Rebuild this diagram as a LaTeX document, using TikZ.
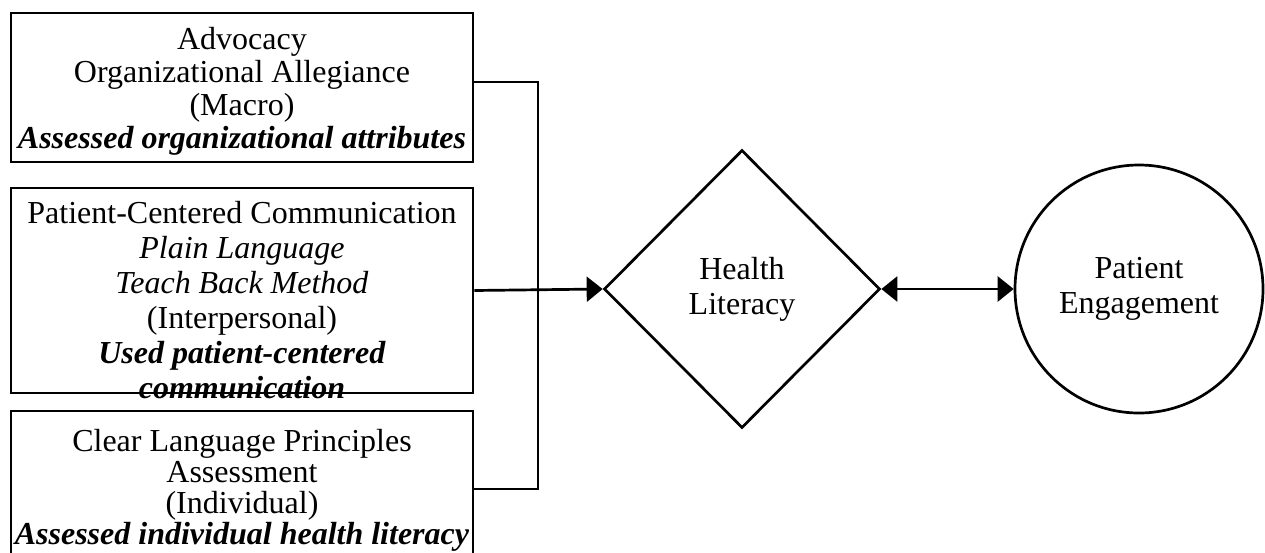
\documentclass[tikz,border=0pt]{standalone}
\usepackage{fontspec}
\setmainfont{Liberation Serif}
\usetikzlibrary{shapes.geometric,arrows.meta}

\begin{document}
\begin{tikzpicture}[x=1pt, y=-1pt, line width=2.7pt,
  box/.style={draw, minimum width=462pt, inner sep=0pt},
  txt/.style={align=center, font=\fontsize{32}{35}\selectfont, inner sep=0pt},
  tip/.style={-{Triangle[length=16pt,width=25pt]}}]
\clip (0,0) rectangle (1265,552);
% the three levels
\node [box, minimum height=149pt] (macro) at (242,87.5) {};
\node [box, minimum height=205pt] (inter) at (242,290.5) {};
\node [box, minimum height=156pt] (indiv) at (242,489) {};
\node [txt, font=\fontsize{32}{33}\selectfont] (macrotxt) at (242,91) {Advocacy\\Organizational Allegiance\\(Macro)\\\textbf{\textit{Assessed organizational attributes}}};
\node [txt] (intertxt) at (242,300) {Patient-Centered Communication\\\textit{Plain Language}\\\textit{Teach Back Method}\\(Interpersonal)\\\textbf{\textit{Used patient-centered}}\\\textbf{\textit{communication}}};
\node [txt, font=\fontsize{32}{31}\selectfont] (indivtxt) at (242,490.5) {Clear Language Principles\\Assessment\\(Individual)\\\textbf{\textit{Assessed individual health literacy}}};
% outcomes
\node [draw, diamond, minimum width=276pt, minimum height=278pt, txt] (hl) at (742,289) {Health\\Literacy};
\node [draw, circle, minimum size=248pt, txt] (pe) at (1139,289) {Patient\\Engagement};
% connectors
\coordinate (bus) at (538,289);
\draw ([yshift=5.5pt]macro.east) -| (bus) |- (indiv.east);
\draw [tip] (inter.east) -- (hl.west);
\draw [{Triangle[length=16pt,width=25pt]}-{Triangle[length=16pt,width=25pt]}] (hl.east) -- (pe.west);
\end{tikzpicture}
\end{document}
